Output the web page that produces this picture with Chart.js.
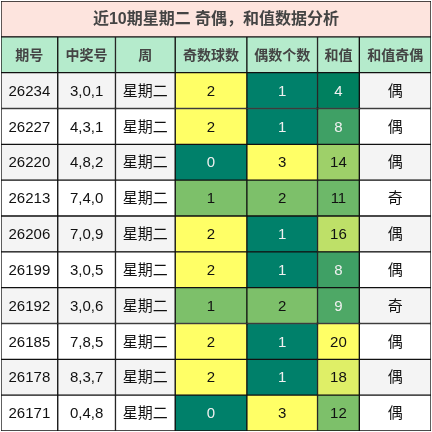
<!DOCTYPE html>
<html lang="zh">
<head>
  <meta charset="UTF-8" />
  <title>近10期星期二 奇偶，和值数据分析</title>
  <script src="https://cdn.jsdelivr.net/npm/chart.js"></script>
  <style>
    html, body { margin: 0; padding: 0; background: #fff; }
    #wrap { width: 432px; height: 432px; }
  </style>
</head>
<body>
  <div id="wrap"><canvas id="table"></canvas></div>
  <script>
    const title = '近10期星期二 奇偶，和值数据分析';
    const headers = ['期号', '中奖号', '周', '奇数球数', '偶数个数', '和值', '和值奇偶'];
    const issues = ['26234', '26227', '26220', '26213', '26206', '26199', '26192', '26185', '26178', '26171'];
    const numbers = ['3,0,1', '4,3,1', '4,8,2', '7,4,0', '7,0,9', '3,0,5', '3,0,6', '7,8,5', '8,3,7', '0,4,8'];
    const weekdays = ['星期二', '星期二', '星期二', '星期二', '星期二', '星期二', '星期二', '星期二', '星期二', '星期二'];
    const oddCounts = [2, 2, 0, 1, 2, 2, 1, 2, 2, 0];
    const evenCounts = [1, 1, 3, 2, 1, 1, 2, 1, 1, 3];
    const sums = [4, 8, 14, 11, 16, 8, 9, 20, 18, 12];
    const sumParity = ['偶', '偶', '偶', '奇', '偶', '偶', '奇', '偶', '偶', '偶'];

    // column edges in px (x scale runs 0..432)
    const edges = [0, 57, 115, 175, 247, 318, 360, 432];
    const rowLabels = ['title', 'head'].concat(issues);

    const oddColor = { 0: '#00806a', 1: '#7dc06a', 2: '#ffff66' };
    const evenColor = { 1: '#00806a', 2: '#7dc06a', 3: '#ffff66' };
    function mix(a, b, t) {
      const pa = a.match(/\w\w/g).map(h => parseInt(h, 16));
      const pb = b.match(/\w\w/g).map(h => parseInt(h, 16));
      return '#' + pa.map((v, i) => Math.round(v + (pb[i] - v) * t).toString(16).padStart(2, '0')).join('');
    }
    function sumColor(v) {
      const t = (v - 4) / 16;
      return t < 0.5 ? mix('00805f', '7dc06a', t * 2) : mix('7dc06a', 'ffff66', (t - 0.5) * 2);
    }
    function isDark(c) {
      const p = c.match(/\w\w/g).map(h => parseInt(h, 16));
      return (0.299 * p[0] + 0.587 * p[1] + 0.114 * p[2]) < 150;
    }
    const zebra = issues.map((_, i) => i % 2 === 0 ? '#f4f4f4' : '#ffffff');

    const columns = [issues, numbers, weekdays, oddCounts, evenCounts, sums, sumParity];
    const fills = [
      zebra, zebra, zebra,
      oddCounts.map(v => oddColor[v]),
      evenCounts.map(v => evenColor[v]),
      sums.map(sumColor),
      zebra
    ];

    const datasets = columns.map((col, c) => ({
      data: [null, [edges[c], edges[c + 1]]].concat(col.map(() => [edges[c], edges[c + 1]])),
      texts: [null, headers[c]].concat(col.map(String)),
      backgroundColor: ['#fde4de', '#b5ebcc'].concat(fills[c]),
      borderColor: '#111',
      borderWidth: 1,
      borderSkipped: false,
      barPercentage: 1,
      categoryPercentage: 1
    }));
    datasets[0].data[0] = [0, 432];
    datasets[0].texts[0] = title;

    const font = '"Liberation Sans", "Noto Sans CJK SC", sans-serif';
    const cellText = {
      id: 'cellText',
      afterDatasetsDraw(chart) {
        const ctx = chart.ctx;
        ctx.save();
        ctx.textAlign = 'center';
        ctx.textBaseline = 'middle';
        chart.data.datasets.forEach((ds, d) => {
          chart.getDatasetMeta(d).data.forEach((el, i) => {
            const t = ds.texts[i];
            if (t == null) return;
            const bg = ds.backgroundColor[i];
            if (i < 2) {
              ctx.font = (i === 0 ? 'bold 16px ' : 'bold 14px ') + font;
              ctx.fillStyle = '#444';
            } else {
              ctx.font = '15px ' + font;
              ctx.fillStyle = isDark(bg) ? '#f0f0f0' : '#111';
            }
            ctx.fillText(t, (el.x + el.base) / 2, el.y + 1);
          });
        });
        ctx.restore();
      }
    };

    new Chart(document.getElementById('table'), {
      type: 'bar',
      data: { labels: rowLabels, datasets },
      options: {
        indexAxis: 'y',
        responsive: true,
        maintainAspectRatio: false,
        animation: false,
        layout: { padding: { left: 1, right: 1, top: 1, bottom: 1 } },
        plugins: { legend: { display: false }, tooltip: { enabled: false } },
        scales: {
          x: { type: 'linear', min: 0, max: 432, display: false },
          y: { stacked: true, display: false }
        }
      },
      plugins: [cellText]
    });
  </script>
</body>
</html>
